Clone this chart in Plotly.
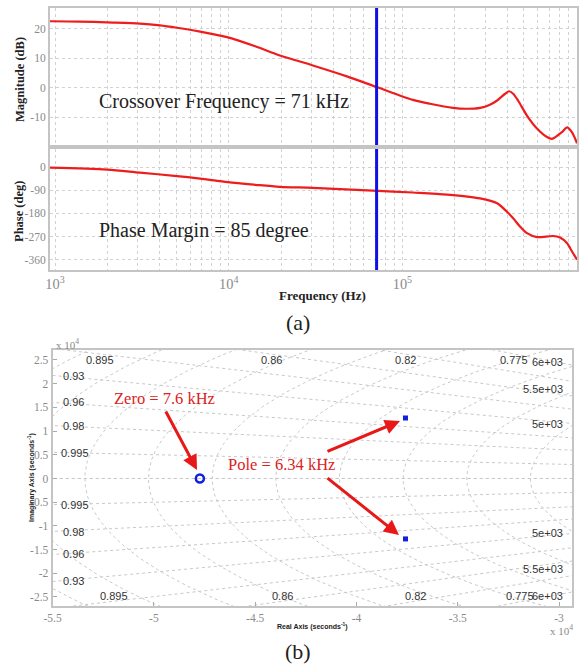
import numpy as np
import plotly.graph_objects as go

W, H = 583, 669

# ---------------- Bode data ----------------
mag_freq_hz = [935, 1390, 1995, 3080, 4020, 5030, 6840, 9770, 14200, 19700, 30500, 47900,
               72400, 115000, 144000, 195000, 235000, 280000, 319000, 351000, 390000,
               411000, 434000, 463000, 521000, 595000, 680000, 726000, 829000, 887000,
               947000, 1012000]
mag_db = [22.5, 22.4, 22.1, 21.7, 21.1, 20.3, 19.0, 17.1, 14.0, 10.9, 7.5, 3.8,
          0.0, -4.2, -5.5, -6.9, -7.2, -6.9, -5.8, -4.4, -2.1,
          -1.25, -2.1, -4.4, -9.5, -13.9, -16.8, -17.4, -15.1, -13.5,
          -15.2, -18.9]

phase_freq_hz = [935, 1995, 3080, 5030, 6840, 9900, 14200, 19700, 30500, 72400, 115000,
                 181000, 280000, 351000, 400000, 434000, 475000, 521000, 595000, 736000,
                 807000, 887000, 947000, 1012000]
phase_deg = [-2.5, -10, -22, -35, -45, -59, -69, -77, -81, -92.5, -99,
             -107, -122, -141, -174, -199, -231, -257, -272, -268,
             -274, -296, -328, -360]

crossover_hz = 71000
mag_ticks = [20, 10, 0, -10]
phase_ticks = [0, -90, -180, -270, -360]
mag_range = [-19.5, 27]
phase_range = [-400, 70]

# ---------------- Pole-zero data ----------------
zero_re = [-47730]
zero_im = [0]
pole_re = [-37580, -37580]
pole_im = [12750, -12750]
damping_values = [1.0, 0.995, 0.98, 0.96, 0.93, 0.895, 0.86, 0.82, 0.775]
grid_freq_hz = [4500, 5000, 5500, 6000, 6500, 7000, 7500, 8000, 8500, 9000, 9500, 10000]
re_ticks = [-55000, -50000, -45000, -40000, -35000, -30000]
re_ticktext = ["-5.5", "-5", "-4.5", "-4", "-3.5", "-3"]
im_ticks = [25000, 20000, 15000, 10000, 5000, 0, -5000, -10000, -15000, -20000, -25000]
im_ticktext = ["2.5", "2", "1.5", "1", "0.5", "0", "-0.5", "-1", "-1.5", "-2", "-2.5"]


def P(x, y):
    return x / W, 1 - y / H


SERIF = "Liberation Serif, Times New Roman, Tinos, DejaVu Serif, serif"
SANS = "Liberation Sans, Arial, DejaVu Sans, sans-serif"
RED = "#ee1c1c"
BLUE = "#1010e6"
GRID = "#d2d2d2"
FRAME = "#c4c4c4"
TICKFONT = dict(family=SERIF, size=11.5, color="#8a8a8a")

fig = go.Figure()

fig.add_trace(go.Scatter(x=mag_freq_hz, y=mag_db, mode="lines",
                         line=dict(color=RED, width=2.2, shape="spline", smoothing=0.8),
                         xaxis="x", yaxis="y", showlegend=False))
fig.add_trace(go.Scatter(x=[crossover_hz, crossover_hz], y=mag_range, mode="lines",
                         line=dict(color=BLUE, width=3), xaxis="x", yaxis="y", showlegend=False))
fig.add_trace(go.Scatter(x=phase_freq_hz, y=phase_deg, mode="lines",
                         line=dict(color=RED, width=2.2, shape="spline", smoothing=0.8),
                         xaxis="x2", yaxis="y2", showlegend=False))
fig.add_trace(go.Scatter(x=[crossover_hz, crossover_hz], y=phase_range, mode="lines",
                         line=dict(color=BLUE, width=3), xaxis="x2", yaxis="y2", showlegend=False))

# s-plane grid: damping rays and natural-frequency arcs
gx, gy = [], []
for z in damping_values:
    slope = np.tan(np.arccos(z))
    for sgn in (1, -1):
        gx += [0, -80000, None]
        gy += [0, sgn * slope * 80000, None]
th = np.linspace(np.pi / 2, 3 * np.pi / 2, 400)
for f in grid_freq_hz:
    w = 2 * np.pi * f
    gx += list(w * np.cos(th)) + [None]
    gy += list(w * np.sin(th)) + [None]
fig.add_trace(go.Scatter(x=gx, y=gy, mode="lines", line=dict(color="#c8c8c8", width=1, dash="dot"),
                         xaxis="x3", yaxis="y3", showlegend=False, hoverinfo="skip"))

fig.add_trace(go.Scatter(x=zero_re, y=zero_im, mode="markers",
                         marker=dict(symbol="circle-open", size=8, color="#1020e0",
                                     line=dict(width=2.5, color="#1020e0")),
                         xaxis="x3", yaxis="y3", showlegend=False))
fig.add_trace(go.Scatter(x=pole_re, y=pole_im, mode="markers",
                         marker=dict(symbol="square", size=5, color="#1020e0"),
                         xaxis="x3", yaxis="y3", showlegend=False))

xd = [50 / W, 577 / W]
frame = dict(showline=True, linecolor=FRAME, linewidth=2, mirror=True, zeroline=False, automargin=False)

fig.update_layout(
    width=W, height=H, margin=dict(l=0, r=0, t=0, b=0, pad=0),
    paper_bgcolor="white", plot_bgcolor="white",
    font=dict(family=SERIF),
    xaxis=dict(domain=xd, type="log", range=[2.971, 6.005], anchor="y", dtick=1, showticklabels=False,
               showgrid=True, gridcolor=GRID, griddash="dot", ticks="",
               minor=dict(showgrid=True, gridcolor=GRID, griddash="dot", dtick="D1"), **frame),
    yaxis=dict(domain=[1 - 145 / H, 1 - 8 / H], range=mag_range, anchor="x",
               tickvals=mag_ticks, ticktext=[str(v) for v in mag_ticks], tickfont=TICKFONT,
               showgrid=True, gridcolor=GRID, griddash="dot", ticks="", **frame),
    xaxis2=dict(domain=xd, type="log", range=[2.971, 6.005], anchor="y2", dtick=1,
                exponentformat="power", tickfont=TICKFONT,
                showgrid=True, gridcolor=GRID, griddash="dot", ticks="",
                minor=dict(showgrid=True, gridcolor=GRID, griddash="dot", dtick="D1"), **frame),
    yaxis2=dict(domain=[1 - 270 / H, 1 - 149 / H], range=phase_range, anchor="x2",
                tickvals=phase_ticks, ticktext=[str(v) for v in phase_ticks], tickfont=TICKFONT,
                showgrid=True, gridcolor=GRID, griddash="dot", ticks="", **frame),
    xaxis3=dict(domain=[52.6 / W, 572 / W], range=[-55000, -29360], anchor="y3",
                tickvals=re_ticks, ticktext=re_ticktext, tickfont=TICKFONT, showgrid=False,
                ticks="inside", ticklen=4, tickcolor="#aaaaaa", **frame),
    yaxis3=dict(domain=[1 - 606 / H, 1 - 350 / H], range=[-26900, 27100], anchor="x3",
                tickvals=im_ticks, ticktext=im_ticktext, tickfont=TICKFONT, showgrid=False,
                ticks="inside", ticklen=4, tickcolor="#aaaaaa", **frame),
)

ann = []


def text(x, y, s, size, family=SERIF, color="#222", angle=0, xanchor="center"):
    px, py = P(x, y)
    ann.append(dict(x=px, y=py, xref="paper", yref="paper", text=s, showarrow=False,
                    font=dict(family=family, size=size, color=color), textangle=angle,
                    xanchor=xanchor, yanchor="middle"))


def arrow(hx, hy, tx, ty):
    px, py = P(hx, hy)
    ann.append(dict(x=px, y=py, xref="paper", yref="paper", text="", showarrow=True,
                    ax=tx - hx, ay=ty - hy, arrowhead=2, arrowsize=1.0, arrowwidth=3,
                    arrowcolor="#e81818"))


text(20, 80, "<b>Magnitude (dB)</b>", 12.5, angle=-90)
text(19, 212, "<b>Phase (deg)</b>", 12.5, angle=-90)
text(322, 295, "<b>Frequency (Hz)</b>", 13)
text(97, 101, "Crossover Frequency = 71 kHz", 20, xanchor="left")
text(97, 230, "Phase Margin = 85 degree", 20, xanchor="left")
text(298, 322, "(a)", 22)
text(298, 651, "(b)", 22)

text(54, 344, "x 10<sup>4</sup>", 11, color="#8a8a8a", xanchor="left")
text(548, 630, "x 10<sup>4</sup>", 11, color="#8a8a8a", xanchor="left")
text(31, 478, "<b>Imaginary Axis (seconds<sup>-1</sup>)</b>", 7, family=SANS, angle=-90)
text(312, 626, "<b>Real Axis (seconds<sup>-1</sup>)</b>", 7, family=SANS)

LC = "#333333"
for (x, y, s) in [(100, 360, "0.895"), (271, 360, "0.86"), (405, 360, "0.82"), (514, 360, "0.775"),
                  (114, 596, "0.895"), (282, 596, "0.86"), (415, 596, "0.82"), (520, 596, "0.775"),
                  (547, 362, "6e+03"), (543, 389, "5.5e+03"), (547, 424, "5e+03"),
                  (547, 596, "6e+03"), (543, 569, "5.5e+03"), (547, 533, "5e+03"),
                  (73, 376, "0.93"), (73, 402, "0.96"), (73, 426, "0.98"), (75, 453, "0.995"),
                  (75, 505, "0.995"), (73, 532, "0.98"), (73, 554, "0.96"), (73, 581, "0.93")]:
    text(x, y, s, 11, family=SANS, color=LC)

text(164, 399, "Zero = 7.6 kHz", 16.5, color="#dd2222")
text(281, 464, "Pole = 6.34 kHz", 16.5, color="#dd2222")
arrow(197, 470, 165, 410)
arrow(400, 421, 326, 452)
arrow(399, 535, 326, 477)

fig.update_layout(annotations=ann)
fig.write_html("out.html")
